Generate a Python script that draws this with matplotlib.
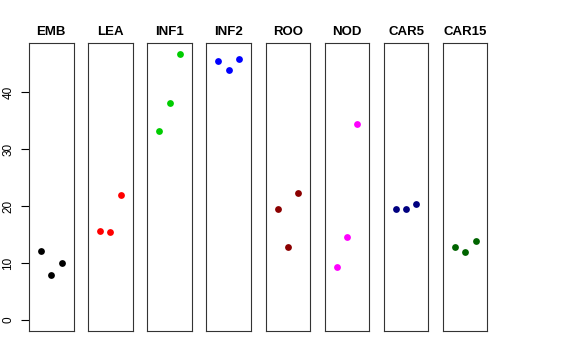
import matplotlib
matplotlib.use("Agg")
import matplotlib.pyplot as plt

plt.rcParams['font.family'] = ['Liberation Sans', 'DejaVu Sans']

tissues = ['EMB', 'LEA', 'INF1', 'INF2', 'ROO', 'NOD', 'CAR5', 'CAR15']
colors = ['black', 'red', '#00CD00', 'blue', '#8B0000', 'magenta', '#000080', '#006400']
reps = [1, 2, 3]
values = [
    [12.16, 7.95, 9.93],
    [15.72, 15.43, 22.04],
    [33.27, 38.07, 46.77],
    [45.44, 43.86, 45.84],
    [19.47, 12.74, 22.33],
    [9.35, 14.56, 34.39],
    [19.47, 19.47, 20.40],
    [12.91, 11.86, 13.91],
]
yticks = [0, 10, 20, 30, 40]

W, H = 576, 360
fig = plt.figure(figsize=(W / 100, H / 100), dpi=100)

left0 = 29.0
step = 59.14
width = 44.5
top = 43.0
bottom = 330.7

ymax = max(max(v) for v in values)
ypad = 0.04 * ymax

for i, (name, col, vals) in enumerate(zip(tissues, colors, values)):
    ax = fig.add_axes([(left0 + i * step) / W, (H - bottom) / H,
                       width / W, (bottom - top) / H])
    ax.scatter(reps, vals, s=24, color=col, zorder=3, linewidths=0)
    ax.set_xlim(-0.16, 4.16)
    ax.set_ylim(-ypad, ymax + ypad)
    ax.set_xticks([])
    for sp in ax.spines.values():
        sp.set_linewidth(0.8)
        sp.set_color('#333333')
    ax.set_title(name, fontsize=9.5, fontweight='bold', pad=6)
    if i == 0:
        ax.set_yticks(yticks)
        ax.set_yticklabels([str(t) for t in yticks], rotation=90, va='center', fontsize=8.5)
        ax.tick_params(axis='y', length=5.5, width=0.8, pad=5)
    else:
        ax.set_yticks([])

fig.savefig('out.png', dpi=100)
